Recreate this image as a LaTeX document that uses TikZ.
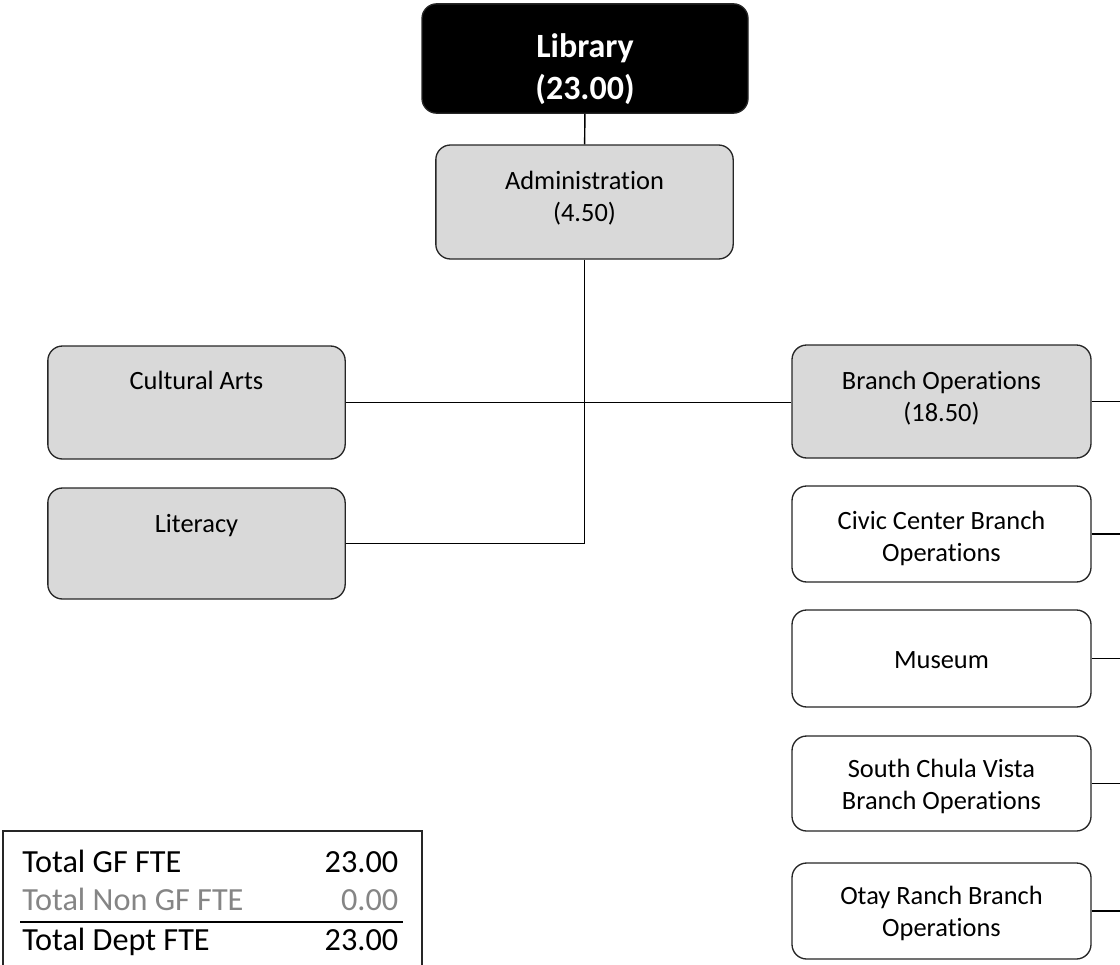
\documentclass[tikz,border=0pt]{standalone}
\usepackage{fontspec}
\setmainfont{Carlito}[Ligatures=NoCommon]
\usepackage{xcolor}
\definecolor{unitgrey}{HTML}{D9D9D9}
\definecolor{edgegrey}{HTML}{262626}
\definecolor{nongfgrey}{HTML}{858585}
\tikzset{
    unit/.style={draw=edgegrey, line width=1pt, rounded corners=11pt, align=center, inner sep=0pt,
        font=\fontsize{19.8}{24}\selectfont},
    dept/.style={unit, fill=black, text=white, minimum width=244.5pt, minimum height=82pt,
        font=\bfseries\fontsize{25.5}{31.5}\selectfont},
    division/.style={unit, fill=unitgrey, minimum width=223pt, minimum height=84.75pt},
    branch/.style={unit, fill=white, minimum width=224.25pt, minimum height=72pt},
    drop/.style={text height=#1, text depth=0pt},
    rise/.style={text height=0pt, text depth=#1},
    link/.style={line width=1.1pt, draw=black},
}
\begin{document}
\begin{tikzpicture}[x=0.75pt, y=-0.75pt]
        \useasboundingbox (0,0) rectangle (1120,964);

        \node[dept, drop=61pt] (Lib) at (585, 58.5) {Library\\(23.00)};
        \node[division, drop=28.5pt, minimum height=85.5pt] (Adm) at (584.5, 202) {Administration\\(4.50)};
        \node[division, rise=19.5pt] (Cult) at (196.5, 402.5) {Cultural Arts};
        \node[division, rise=17pt, minimum height=83.25pt] (Lit) at (196.5, 543.5) {Literacy};
        \node[division, drop=29.3pt, minimum width=224.25pt] (Branch) at (941.5, 401.5) {Branch Operations\\(18.50)};

        \node[branch, drop=41.5pt] (Civic) at (941.5, 534) {Civic Center Branch\\Operations};
        \node[branch, drop=14.5pt, minimum height=72.75pt] (Museum) at (941.5, 658.5) {Museum};
        \node[branch, drop=38.5pt, minimum height=71.25pt] (South) at (941.5, 783.5) {South Chula Vista\\Branch Operations};
        \node[branch, drop=38.5pt] (Otay) at (941.5, 911) {Otay Ranch Branch\\Operations};

        \coordinate (rail) at (1125, 0);

        \draw[link] (Lib) -- (Adm);
        \draw[link] (Adm.south) |- (Lit.east);
        \draw[link] (Cult.east) -- (Cult.east -| Branch.west);
        \draw[link] (Branch.east) -- (Branch.east -| rail);
        \draw[link] (Civic.east) -- (Civic.east -| rail);
        \draw[link] (Museum.east) -- (Museum.east -| rail);
        \draw[link] (South.east) -- (South.east -| rail);
        \draw[link] (Otay.east) -- (Otay.east -| rail);

        \draw[line width=0.8pt, draw=edgegrey] (3, 975) |- (422, 831) -- (422, 975);
        \node[inner sep=0pt, anchor=base west, font=\fontsize{24.2}{28.5}\selectfont] (Totals) at (20, 872) {%
            \setlength{\arrayrulewidth}{1.5pt}%
            \begin{tabular*}{287.25pt}[t]{@{\hspace{1.5pt}}l@{\extracolsep{\fill}}r@{\hspace{3.75pt}}}
                Total GF FTE & 23.00\\
                \textcolor{nongfgrey}{Total Non GF FTE} & \textcolor{nongfgrey}{0.00}\\ \hline
                Total Dept FTE & 23.00
            \end{tabular*}};
    \end{tikzpicture}
\end{document}
